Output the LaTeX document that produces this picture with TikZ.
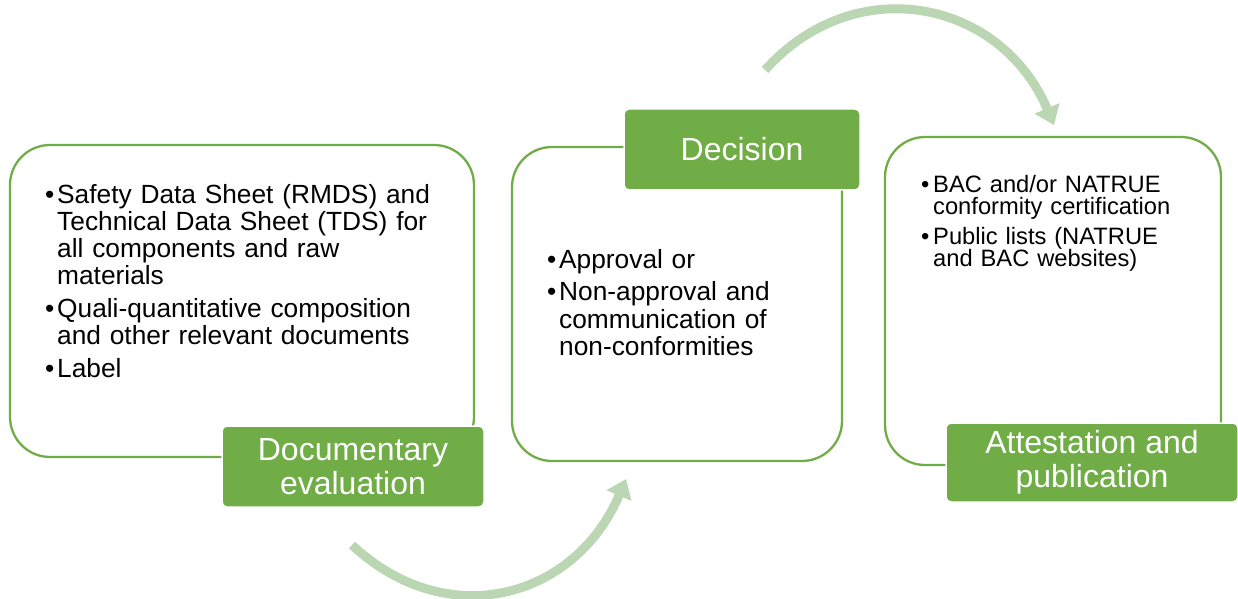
\documentclass[tikz,border=0pt]{standalone}
\usepackage{fontspec}
\setmainfont{Liberation Sans}
\usetikzlibrary{arrows.meta}

\definecolor{accent}{RGB}{112,173,71}
\definecolor{pale}{RGB}{187,214,178}

% one bullet point, hanging indent for the wrapped lines
\newcommand{\bitem}[1]{\hangindent=12pt\hangafter=1\noindent\makebox[12pt][l]{\textbullet}#1\par}
\newcommand{\gap}[1]{\vspace{#1}}

\begin{document}
\begin{tikzpicture}[
    x=1pt, y=1pt,
    panel/.style={draw=accent, line width=2.3pt, rounded corners=40pt, inner sep=0},
    stage/.style={fill=accent, draw=white, line width=1.5pt, rounded corners=5pt,
      text=white, align=center, inner sep=0, font=\fontsize{32}{34}\selectfont},
    bodytext/.style={inner sep=0, align=left, anchor=base west},
    loopline/.style={draw=pale, line width=9pt, looseness=1.18, -{Triangle[width=26pt,length=18pt]}}
  ]
  \useasboundingbox (0,0) rectangle (1238,598);

  % outlined boxes
  \node[panel, minimum width=464pt, minimum height=312pt] (docbox) at (242,297) {};
  \node[panel, minimum width=330pt, minimum height=314pt] (decbox) at (677,294) {};
  \node[panel, minimum width=336pt, minimum height=328pt] (pubbox) at (1053,297) {};

  % bullet lists
  \node[bodytext, text width=420pt, font=\fontsize{26.3}{27}\selectfont] (docitems) at (45,395) {%
    \bitem{Safety Data Sheet (RMDS) and\newline Technical Data Sheet (TDS) for\newline all components and raw\newline materials}\gap{6pt}
    \bitem{Quali-quantitative composition\newline and other relevant documents}\gap{6pt}
    \bitem{Label}};
  \node[bodytext, text width=260pt, font=\fontsize{26.3}{27.5}\selectfont] (decitems) at (547,330) {%
    \bitem{Approval or}\gap{5pt}
    \bitem{Non-approval and\newline communication of\newline non-conformities}};
  \node[bodytext, text width=270pt, font=\fontsize{23.7}{22.5}\selectfont] (pubitems) at (921,406) {%
    \bitem{BAC and/or NATRUE\newline conformity certification}\gap{7pt}
    \bitem{Public lists (NATRUE\newline and BAC websites)}};

  % green labels
  \node[stage, minimum width=262pt, minimum height=81pt] (doclabel) at (353,131.5) {Documentary\\evaluation};
  \node[stage, minimum width=236pt, minimum height=81pt] (declabel) at (742,448.5) {Decision};
  \node[stage, minimum width=292pt, minimum height=79pt] (publabel) at (1092,135.5) {Attestation and\\publication};

  % curved arrows between the steps
  \coordinate (lowstart) at (352,53);
  \coordinate (lowend) at (626,119);
  \coordinate (highstart) at (765,528);
  \coordinate (highend) at (1054,473);
  \draw[loopline] (lowstart) to[out=-43, in=-113] (lowend);
  \draw[loopline] (highstart) to[out=48, in=113] (highend);
\end{tikzpicture}
\end{document}
